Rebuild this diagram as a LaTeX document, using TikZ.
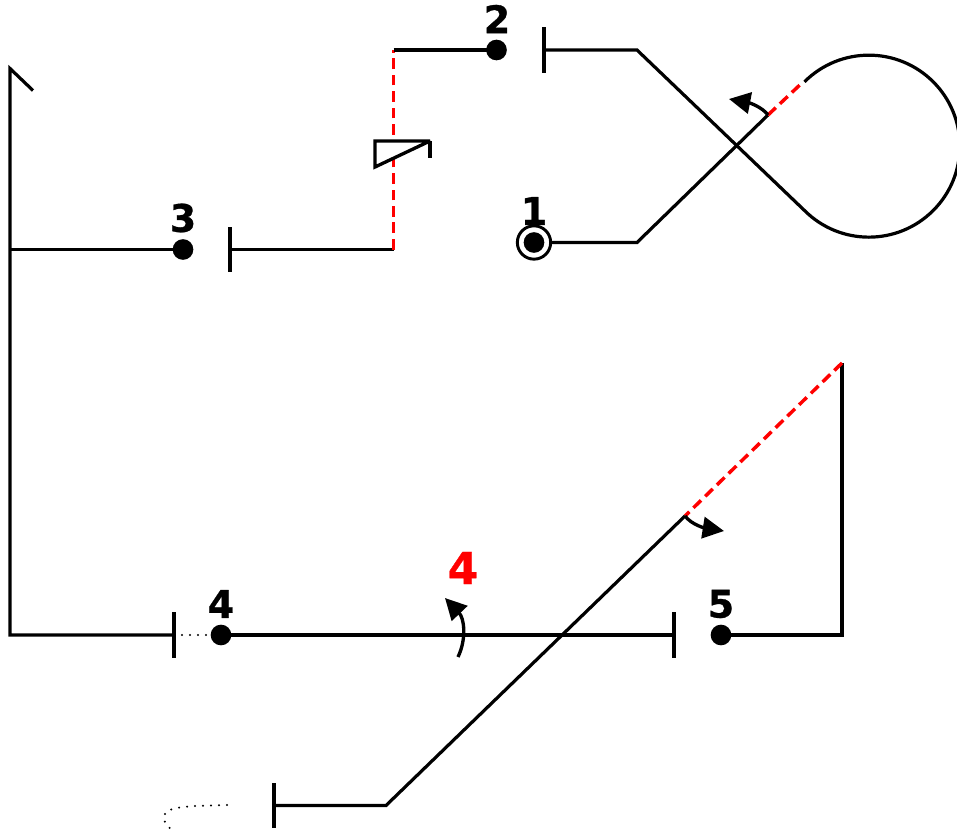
\documentclass[tikz,border=0pt]{standalone}
\usepackage{fontspec}
\setmainfont[BoldFeatures={FakeBold=0.8}]{DejaVu Sans}
\usetikzlibrary{arrows.meta}
\tikzset{
  wire/.style={draw=black,line width=2.4pt,line join=miter},
  reddash/.style={draw=red,line width=2.6pt,dash pattern=on 8pt off 4.3pt},
  dotline/.style={draw=black,line width=1.7pt,line cap=round,dash pattern=on 0pt off 6pt},
  blob/.style={circle,fill=black,minimum size=15.5pt,inner sep=0pt,outer sep=0pt},
  bar/.style={rectangle,fill=black,minimum width=2.5pt,minimum height=34pt,inner sep=0pt,outer sep=0pt},
  num/.style={font=\fontsize{28.5}{30}\selectfont\bfseries,inner sep=0pt,text=black},
  redarrow/.style={draw=black,line width=2.5pt,-{Triangle[length=16pt,width=16pt]}},
}
\begin{document}
\begin{tikzpicture}[x=0.75pt,y=-0.75pt]
\useasboundingbox (0,0) rectangle (957,831);
\clip (0,0) rectangle (957,831);
% junctions
\coordinate (hook) at (33,90.5);
\coordinate (topL) at (10,68.5);
\coordinate (midL) at (10,249.5);
\coordinate (botL) at (10,635);
\coordinate (cornA) at (393.5,249.5);
\coordinate (cornB) at (393.5,50);
\coordinate (cornC) at (637,50);
\coordinate (cornD) at (637,242.5);
\coordinate (tanU) at (803.5,81.5);
\coordinate (tanL) at (804.5,210.5);
\coordinate (splitU) at (768,115);
\coordinate (splitB) at (685,516);
\coordinate (farR) at (842,363);
\coordinate (cornE) at (842,635);
\coordinate (cornF) at (386,805.5);
\coordinate (dotS) at (227,805);
\coordinate (dotM) at (164,816);
\coordinate (dotE) at (172,830);
% nodes
\node[blob] (n1) at (534,242.5) {};
\node[circle,draw=black,line width=2.2pt,minimum size=25pt,inner sep=0pt,outer sep=0pt] (ring) at (534,242.5) {};
\node[blob] (n2) at (496.5,50) {};
\node[blob] (n3) at (183,249.5) {};
\node[blob] (n4) at (221,635) {};
\node[blob] (n5) at (721,635) {};
\node[bar] (b2) at (544,50) {};
\node[bar] (b3) at (230,249.5) {};
\node[bar] (b4) at (174,635) {};
\node[bar] (b5) at (674,635) {};
\node[bar,minimum width=3pt] (b6) at (274,805.5) {};
% wires
\draw[wire] (hook) -- (topL) -- (botL) -- (b4.center);
\draw[wire] (midL) -- (n3.center);
\draw[wire] (b3.center) -- (cornA);
\draw[reddash] (cornA) -- (cornB);
\draw[wire] (cornB) -- (n2.center);
\draw[wire] (b2.center) -- (cornC) -- (tanL) arc[start angle=-135,end angle=135,radius=68.25pt];
\draw[wire] (ring.east) -- (cornD) -- (splitU);
\draw[reddash] (splitU) -- (tanU);
\draw[wire] (n4.center) -- (b5.center);
\draw[wire] (n5.center) -- (cornE) -- (farR);
\draw[reddash] (farR) -- (splitB);
\draw[wire] (splitB) -- (cornF) -- (b6.center);
\draw[dotline] (b4.center) ++(8,0) -- (n4.west);
\draw[dotline] (dotS) .. controls (190,806) and (166,806) .. (dotM) .. controls (163,822) and (167,826) .. (dotE);
% symbol
\filldraw[fill=white,draw=black,line width=2.5pt,miter limit=2] (430,141) -- (375,141) -- (375,167) -- cycle;
\draw[wire] (430,141) -- (430,158);
% arrows
\draw[redarrow] (458,657) .. controls (467,638) and (464,618) .. (445,598);
\draw[redarrow] (splitB) .. controls (692,525) and (705,528) .. (724,531);
\draw[redarrow] (splitU) .. controls (762,107) and (750,103) .. (729,99);
% labels
\node[num] (l1) at (534,211) {1};
\node[num] (l2) at (497,19) {2};
\node[num] (l3) at (183,218) {3};
\node[num] (l4) at (221,604) {4};
\node[num] (l5) at (721,604) {5};
\node[num,font=\fontsize{33}{35}\selectfont\bfseries,text=red] (l6) at (463,568) {4};
\end{tikzpicture}
\end{document}
